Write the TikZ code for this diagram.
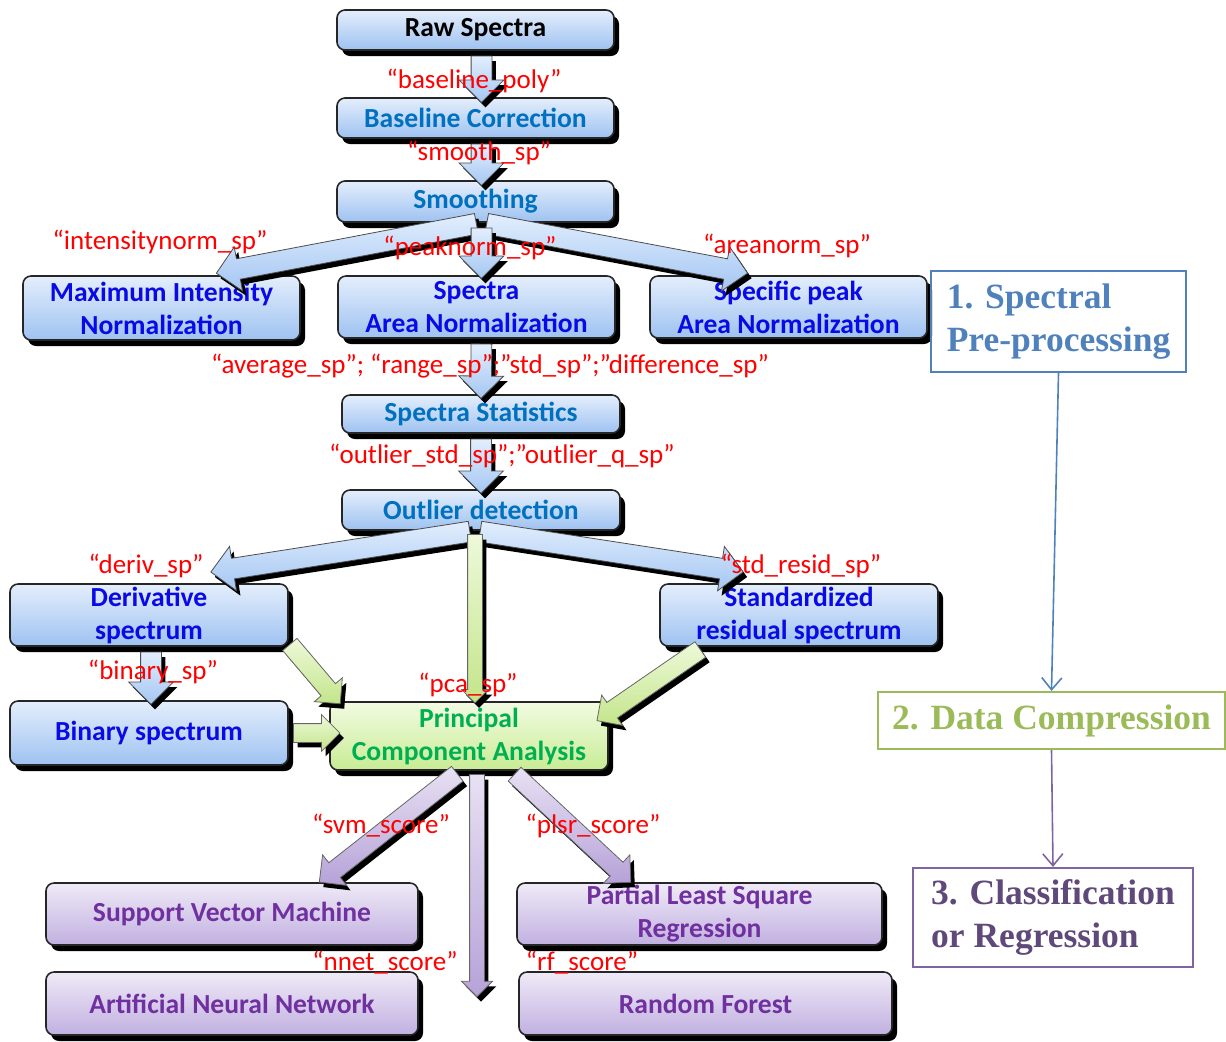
\documentclass[tikz,border=0pt]{standalone}
\usepackage{fontspec}
\setmainfont{Carlito}
\newfontfamily\serifb{Liberation Serif}
\usetikzlibrary{shapes.arrows,shadows,calc,arrows.meta}
\definecolor{bluetop}{HTML}{E4EEFC}
\definecolor{bluebot}{HTML}{9EC2F1}
\definecolor{greentop}{HTML}{F2FBE2}
\definecolor{greenbot}{HTML}{C8EC94}
\definecolor{purptop}{HTML}{EFEAF7}
\definecolor{purpbot}{HTML}{C1B0E0}
\definecolor{midblue}{HTML}{0070C0}
\definecolor{deepblue}{HTML}{0A0AE6}
\definecolor{pcagreen}{HTML}{00B050}
\definecolor{purptext}{HTML}{7030A0}
\definecolor{ppcol}{HTML}{4F81BD}
\definecolor{dccol}{HTML}{9BBB59}
\definecolor{crcol}{HTML}{8064A2}
\definecolor{crtext}{HTML}{5F497A}
\definecolor{arrblue1}{HTML}{E2EEFD}
\definecolor{arrblue2}{HTML}{A4C6F3}
\definecolor{arrgreen1}{HTML}{EEF9DA}
\definecolor{arrgreen2}{HTML}{C3E58A}
\definecolor{arrpurp1}{HTML}{E8E1F3}
\definecolor{arrpurp2}{HTML}{B6A2D8}
\newcommand\bx[7]{%
  \node[#6, minimum width={(#4-#2)*0.5pt}, minimum height={(#5-#3)*0.5pt}] (#1) at ({(#2+#4)/2},{(#3+#5)/2}) {#7};}
\newcommand\barrow[5]{%
  \path let \p1=($(#2)-(#1)$), \n1={atan2(\y1,\x1)}, \n2={veclen(\x1,\y1)} in
   node[single arrow, rotate=\n1, minimum height=\n2, inner xsep=0pt, inner ysep=#3, single arrow head extend=#4, outer sep=0pt, fill=black] at ($($(#1)!0.5!(#2)$)+(2pt,-2.5pt)$) {}
   node[single arrow, rotate=\n1, minimum height=\n2, inner xsep=0pt, inner ysep=#3, single arrow head extend=#4, outer sep=0pt, #5] at ($(#1)!0.5!(#2)$) {};}
\tikzset{
  box/.style={rounded corners=4pt, draw=black!85, line width=0.8pt,
    drop shadow={shadow xshift=2.5pt, shadow yshift=-3pt, fill=black, opacity=1},
    align=center, inner sep=0pt, font=\fontsize{13.8}{16.5}\selectfont\bfseries},
  bbox/.style={box, top color=bluetop, bottom color=bluebot},
  gbox/.style={box, top color=greentop, bottom color=greenbot, text=pcagreen},
  pbox/.style={box, top color=purptop, bottom color=purpbot, text=purptext},
  lbl/.style={text=red, font=\fontsize{13.5}{16}\selectfont, inner sep=0pt},
  side/.style={line width=1pt, inner sep=0pt, font=\serifb\bfseries\fontsize{17.75}{21.5}\selectfont},
  ablue/.style={top color=arrblue1, bottom color=arrblue2, draw=black!70, line width=0.4pt},
  agreen/.style={top color=arrgreen1, bottom color=arrgreen2, draw=black!60, line width=0.4pt},
  apurp/.style={top color=arrpurp1, bottom color=arrpurp2, draw=black!60, line width=0.4pt},
  thinarr/.style={line width=0.8pt, -{Straight Barb[length=6pt,width=10pt]}}
}
\begin{document}
\begin{tikzpicture}[x=0.5pt,y=-0.5pt]
\useasboundingbox (0,0) rectangle (1226,1041);
% boxes
\bx{raw}{337}{10}{614}{50}{bbox}{Raw Spectra}
\bx{base}{337}{98}{614}{138}{bbox,text=midblue}{Baseline Correction}
\bx{smooth}{337}{181}{614}{222}{bbox,text=midblue}{Smoothing}
\bx{maxint}{23}{276}{300}{340}{bbox,text=deepblue}{Maximum Intensity\\Normalization}
\bx{specarea}{338}{276}{615}{338}{bbox,text=deepblue}{Spectra\\Area Normalization}
\bx{specpeak}{650}{276}{927}{338}{bbox,text=deepblue}{Specific peak\\Area Normalization}
\bx{stats}{342}{395}{620}{433}{bbox,text=midblue}{Spectra Statistics}
\bx{outlier}{342}{490}{620}{530}{bbox,text=midblue}{Outlier detection}
\bx{deriv}{10}{584}{288}{646}{bbox,text=deepblue}{Derivative\\spectrum}
\bx{stdres}{660}{584}{938}{646}{bbox,text=deepblue}{Standardized\\residual spectrum}
\bx{binary}{10}{701}{288}{765}{bbox,text=deepblue}{Binary spectrum}
\bx{pca}{330}{702}{608}{770}{gbox}{Principal\\Component Analysis}
\bx{svm}{46}{883}{418}{945}{pbox}{Support Vector Machine}
\bx{plsr}{517}{883}{882}{945}{pbox}{Partial Least Square\\Regression}
\bx{ann}{46}{972}{418}{1035}{pbox}{Artificial Neural Network}
\bx{rf}{519}{972}{892}{1035}{pbox}{Random Forest}
% side boxes
\bx{pp}{931}{271}{1186}{372}{side,draw=ppcol,text=ppcol,align=left}{1. Spectral\\Pre-processing}
\bx{dc}{878}{692}{1225}{749}{side,draw=dccol,text=dccol,align=center}{2. Data Compression}
\bx{cr}{913}{868}{1193}{967}{side,draw=crcol,text=crtext,align=left}{3. Classification\\or Regression}
\draw[thinarr, ppcol] (pp.south) -- (dc.north);
\draw[thinarr, crcol] (dc.south) -- (cr.north);
% block arrows
\barrow{$(raw.south)+(6,0)$}{$(base.north)+(6,0)$}{5pt}{6pt}{ablue}
\barrow{$(base.south)+(6,0)$}{$(smooth.north)+(6,0)$}{5pt}{6pt}{ablue}
\barrow{$(smooth.south)+(6,0)$}{$(maxint.north)+(60,-3)$}{5pt}{6pt}{ablue}
\barrow{$(smooth.south)+(6,0)$}{$(specpeak.north)+(-46,-3)$}{5pt}{6pt}{ablue}
\barrow{$(smooth.south)+(6,0)$}{$(specarea.north)+(5,-2)$}{5pt}{6pt}{ablue}
\barrow{$(specarea.south)+(5,0)$}{$(stats.north)+(0,-1)$}{5pt}{6pt}{ablue}
\barrow{$(stats.south)+(0,0)$}{$(outlier.north)+(0,-1)$}{5pt}{6pt}{ablue}
\barrow{$(outlier.south)+(-6,0)$}{$(deriv.north)+(67,-12)$}{5pt}{6pt}{ablue}
\barrow{$(outlier.south)+(-6,0)$}{$(stdres.north)+(-61,-12)$}{5pt}{6pt}{ablue}
\barrow{$(deriv.south)+(2,0)$}{$(binary.north)+(2,-1)$}{5pt}{6pt}{ablue}
\barrow{$(outlier.south)+(-6,0)$}{$(pca.north)+(6,-2)$}{3.5pt}{3pt}{agreen}
\barrow{$(deriv.south east)+(-2,-6)$}{$(pca.north west)+(8,-1)$}{4.5pt}{4.5pt}{agreen}
\barrow{$(binary.east)+(0,0)$}{$(pca.west)+(6,-3)$}{4.5pt}{4.5pt}{agreen}
\barrow{$(stdres.south west)+(45,0)$}{$(pca.east)+(-8,-18)$}{4.5pt}{4.5pt}{agreen}
\coordinate (dn) at (477,993);
\barrow{$(pca.south)+(-8,0)$}{$(svm.north)+(91,-3)$}{4.5pt}{5pt}{apurp}
\barrow{$(pca.south)+(42,0)$}{$(plsr.north)+(-72,-3)$}{4.5pt}{5pt}{apurp}
\barrow{$(pca.south)+(8,0)$}{dn}{3.5pt}{4pt}{apurp}
% labels
\node[lbl] (l1) at (474,81) {“baseline\_poly”};
\node[lbl] (l2) at (479,153) {“smooth\_sp”};
\node[lbl] (l3) at (160,242) {“intensitynorm\_sp”};
\node[lbl] (l4) at (470,248) {“peaknorm\_sp”};
\node[lbl] (l5) at (787,246) {“areanorm\_sp”};
\node[lbl] (l6) at (490,366) {“average\_sp”; “range\_sp”;”std\_sp”;”difference\_sp”};
\node[lbl] (l7) at (502,456) {“outlier\_std\_sp”;”outlier\_q\_sp”};
\node[lbl] (l8) at (146,566) {“deriv\_sp”};
\node[lbl] (l9) at (801,566) {“std\_resid\_sp”};
\node[lbl] (l10) at (153,672) {“binary\_sp”};
\node[lbl] (l11) at (468,685) {“pca\_sp”};
\node[lbl] (l12) at (381,826) {“svm\_score”};
\node[lbl] (l13) at (593,826) {“plsr\_score”};
\node[lbl] (l14) at (385,963) {“nnet\_score”};
\node[lbl] (l15) at (582,963) {“rf\_score”};
\end{tikzpicture}
\end{document}
